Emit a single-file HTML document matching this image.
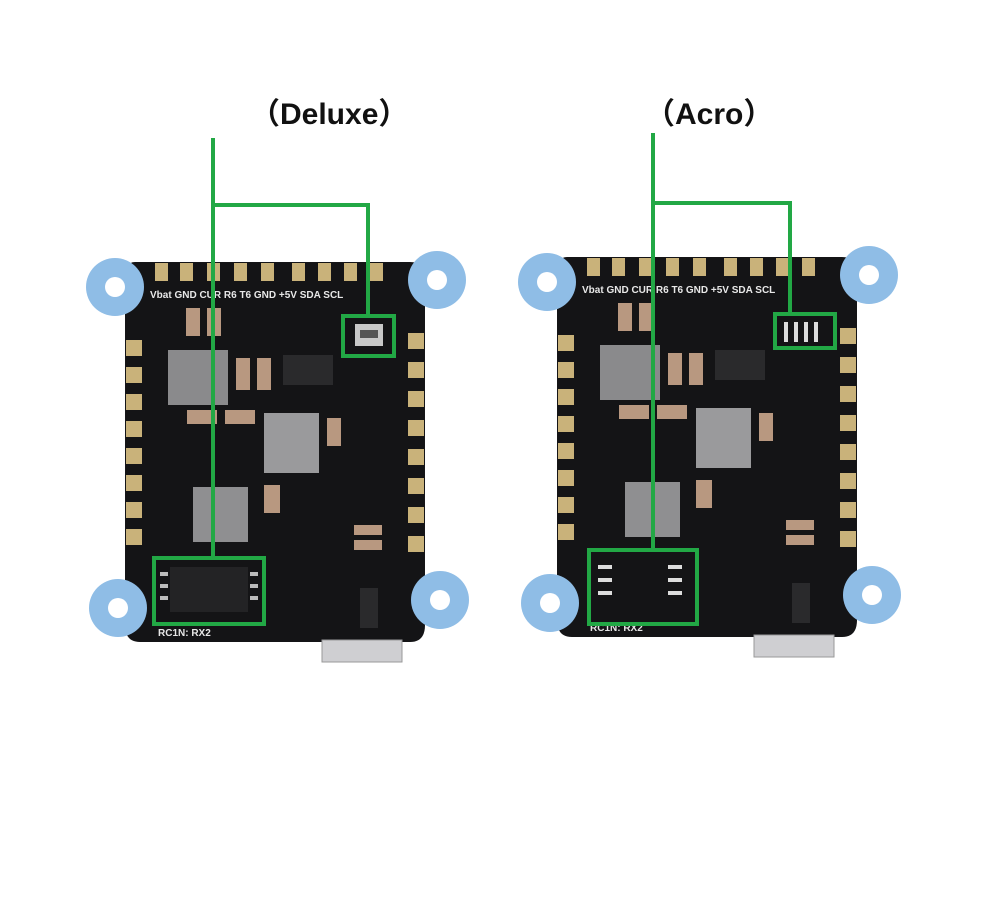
<!DOCTYPE html>
<html><head><style>
html,body{margin:0;padding:0;background:#fff;width:1000px;height:900px;overflow:hidden}
svg{display:block}
</style></head><body>
<svg width="1000" height="900" viewBox="0 0 1000 900" xmlns="http://www.w3.org/2000/svg">
<defs>
<g id="board">
  <path d="M135,262 H410 Q425,262 425,278 V625 Q425,642 410,642 H140 Q125,642 125,625 V278 Q125,262 135,262 Z" fill="#141416"/>
  <g fill="#c9b27a">
    <rect x="155" y="263" width="13" height="18"/><rect x="180" y="263" width="13" height="18"/>
    <rect x="207" y="263" width="13" height="18"/><rect x="234" y="263" width="13" height="18"/>
    <rect x="261" y="263" width="13" height="18"/><rect x="292" y="263" width="13" height="18"/>
    <rect x="318" y="263" width="13" height="18"/><rect x="344" y="263" width="13" height="18"/>
    <rect x="370" y="263" width="13" height="18"/>
    <rect x="126" y="340" width="16" height="16"/><rect x="126" y="367" width="16" height="16"/>
    <rect x="126" y="394" width="16" height="16"/><rect x="126" y="421" width="16" height="16"/>
    <rect x="126" y="448" width="16" height="16"/><rect x="126" y="475" width="16" height="16"/>
    <rect x="126" y="502" width="16" height="16"/><rect x="126" y="529" width="16" height="16"/>
    <rect x="408" y="333" width="16" height="16"/><rect x="408" y="362" width="16" height="16"/>
    <rect x="408" y="391" width="16" height="16"/><rect x="408" y="420" width="16" height="16"/>
    <rect x="408" y="449" width="16" height="16"/><rect x="408" y="478" width="16" height="16"/>
    <rect x="408" y="507" width="16" height="16"/><rect x="408" y="536" width="16" height="16"/>
  </g>
  <rect x="168" y="350" width="60" height="55" fill="#8a8a8c"/>
  <rect x="264" y="413" width="55" height="60" fill="#9a9a9c"/>
  <rect x="193" y="487" width="55" height="55" fill="#8f8f91"/>
  <g fill="#b89880">
    <rect x="186" y="308" width="14" height="28"/><rect x="207" y="308" width="14" height="28"/>
    <rect x="236" y="358" width="14" height="32"/><rect x="257" y="358" width="14" height="32"/>
    <rect x="187" y="410" width="30" height="14"/><rect x="225" y="410" width="30" height="14"/>
    <rect x="327" y="418" width="14" height="28"/><rect x="264" y="485" width="16" height="28"/>
    <rect x="354" y="525" width="28" height="10"/><rect x="354" y="540" width="28" height="10"/>
  </g>
  <rect x="283" y="355" width="50" height="30" fill="#2a2a2c"/>
  <rect x="360" y="588" width="18" height="40" fill="#2a2a2c"/>
  <g fill="#e8e8e8" font-family="Liberation Sans,sans-serif" font-size="10" font-weight="bold">
    <text x="150" y="298">Vbat GND CUR  R6   T6   GND +5V SDA SCL</text>
    <text x="158" y="636">RC1N: RX2</text>
  </g>
  <rect x="322" y="640" width="80" height="22" fill="#cfcfd2" stroke="#999" stroke-width="1"/>
  <g fill="#8fbde6">
    <circle cx="115" cy="287" r="29"/><circle cx="437" cy="280" r="29"/>
    <circle cx="118" cy="608" r="29"/><circle cx="440" cy="600" r="29"/>
  </g>
  <g fill="#fff">
    <circle cx="115" cy="287" r="10"/><circle cx="437" cy="280" r="10"/>
    <circle cx="118" cy="608" r="10"/><circle cx="440" cy="600" r="10"/>
  </g>
</g>
</defs>
<use href="#board"/>
<use href="#board" transform="translate(432,-5)"/>
<!-- left: flash chip + baro -->
<rect x="170" y="567" width="78" height="45" fill="#232325"/>
<g fill="#bbb"><rect x="160" y="572" width="8" height="4"/><rect x="160" y="584" width="8" height="4"/><rect x="160" y="596" width="8" height="4"/><rect x="250" y="572" width="8" height="4"/><rect x="250" y="584" width="8" height="4"/><rect x="250" y="596" width="8" height="4"/></g>
<rect x="355" y="324" width="28" height="22" fill="#c8c8c8"/>
<rect x="360" y="330" width="18" height="8" fill="#555"/>
<!-- right: empty footprints -->
<rect x="602" y="557" width="80" height="50" fill="#141416"/>
<g fill="#ddd"><rect x="598" y="565" width="14" height="4"/><rect x="598" y="578" width="14" height="4"/><rect x="598" y="591" width="14" height="4"/><rect x="668" y="565" width="14" height="4"/><rect x="668" y="578" width="14" height="4"/><rect x="668" y="591" width="14" height="4"/></g>
<g fill="#ddd"><rect x="784" y="322" width="4" height="20"/><rect x="794" y="322" width="4" height="20"/><rect x="804" y="322" width="4" height="20"/><rect x="814" y="322" width="4" height="20"/></g>
<g fill="none" stroke="#22a845" stroke-width="4">
  <path d="M213,138 V560"/>
  <path d="M213,205 H368 V316"/>
  <rect x="343" y="316" width="51" height="40"/>
  <rect x="154" y="558" width="110" height="66"/>
  <path d="M653,133 V550"/>
  <path d="M653,203 H790 V314"/>
  <rect x="775" y="314" width="60" height="34"/>
  <rect x="589" y="550" width="108" height="74"/>
</g>
<g font-family="Liberation Sans,'Noto Sans CJK SC',sans-serif" font-size="30" font-weight="bold" fill="#111">
  <text x="250" y="124">（Deluxe）</text>
  <text x="645" y="124">（Acro）</text>
</g>
</svg>
</body></html>
